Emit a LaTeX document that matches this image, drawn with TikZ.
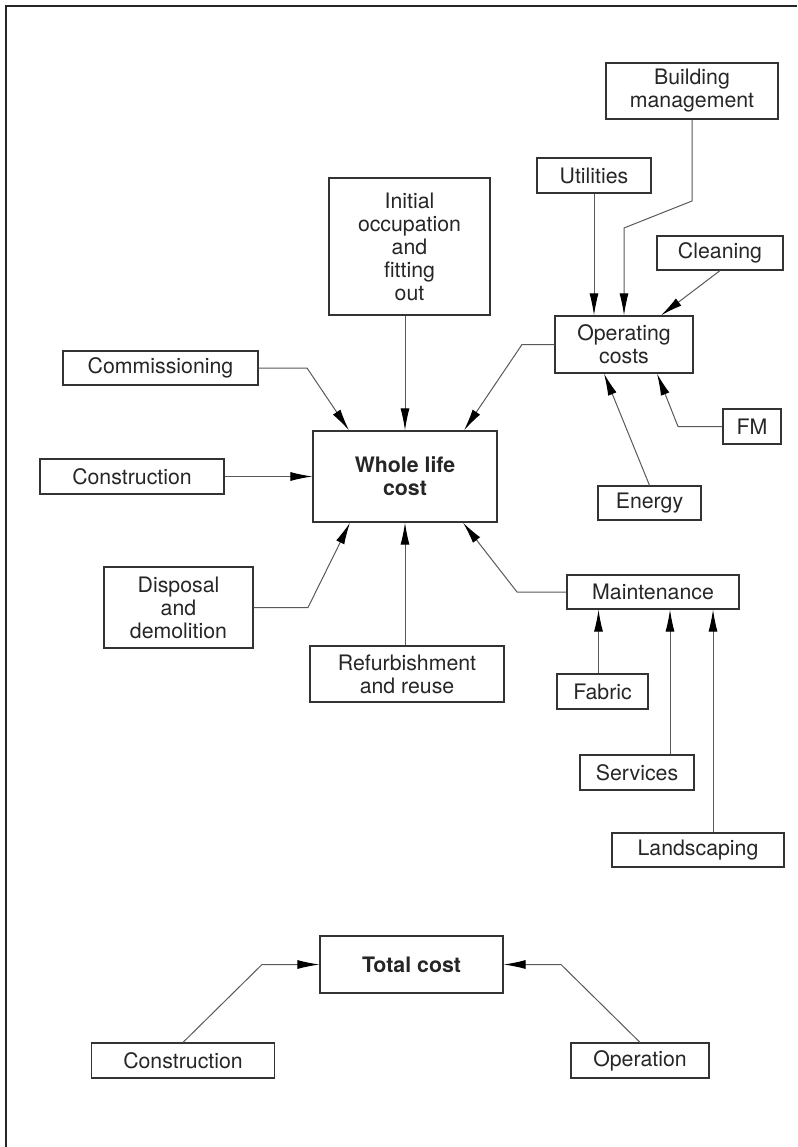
\documentclass[tikz,border=0pt]{standalone}
\usepackage{fontspec}
\setmainfont{TeX Gyre Heros}
\usetikzlibrary{arrows.meta}
\usetikzlibrary{positioning}

\begin{document}
\begin{tikzpicture}
    [x=1pt,y=-1pt,
    box/.style={rectangle,draw=black!80,line width=1.2pt,
      inner sep=0pt,align=center,text=black!85,
      font=\fontsize{21.3}{23}\selectfont},
    boxsize/.style 2 args={minimum width=#1,minimum height=#2},
    link/.style={draw=black!65,line width=1pt,
      -{Latex[length=22pt,width=9pt,black]}}]

    \useasboundingbox (0,0) rectangle (797,1147);
    \draw[black!85,line width=1.5pt] (6,1147) -- (6,6) -- (797,6);

    \node[box,boxsize={184pt}{91pt}]  (whole)     at (405,476.5) {\textbf{Whole life}\\\textbf{cost}};

    \node[box,boxsize={161pt}{137pt}] (initial)   at (409.5,246.5) {Initial\\occupation\\and\\fitting\\out};
    \node[box,boxsize={195pt}{34pt}]  (commiss)   at (160.5,368)   {Commissioning};
    \node[box,boxsize={184pt}{35pt}]  (construct) at (132,476.5)   {Construction};
    \node[box,boxsize={149pt}{81pt}]  (disposal)  at (178.5,607.5) {Disposal\\and\\demolition};
    \node[box,boxsize={194pt}{56pt}]  (refurb)    at (407,674)     {Refurbishment\\and reuse};

    \node[box,boxsize={138pt}{57pt}]  (operating) at (624,344.5)   {Operating\\costs};
    \node[box,boxsize={172pt}{56pt}]  (buildman)  at (692,91)      {Building\\management};
    \node[box,boxsize={114pt}{35pt}]  (utilities) at (594,175.5)   {Utilities};
    \node[box,boxsize={126pt}{34pt}]  (cleaning)  at (720,253)     {Cleaning};
    \node[box,boxsize={58pt}{35pt}]   (fm)        at (752,426.5)   {FM};
    \node[box,boxsize={103pt}{34pt}]  (energy)    at (649.5,503)   {Energy};

    \node[box,boxsize={172pt}{34pt}]  (maint)     at (653,592)     {Maintenance};
    \node[box,boxsize={91pt}{35pt}]   (fabric)    at (602.5,691.5) {Fabric};
    \node[box,boxsize={114pt}{35pt}]  (services)  at (637,772.5)   {Services};
    \node[box,boxsize={172pt}{34pt}]  (landscape) at (698,850)     {Landscaping};

    \node[box,boxsize={183pt}{57pt}]  (total)     at (411.5,964.5) {\textbf{Total cost}};
    \node[box,boxsize={183pt}{35pt}]  (buildcost) at (183,1060.5)  {Construction};
    \node[box,boxsize={138pt}{35pt}]  (operation) at (640,1060.5)  {Operation};

    % bends
    \coordinate (buildman bend)  at (692,201);
    \coordinate (buildman bend2) at (624,228);
    \coordinate (operating bend) at (522,344.5);
    \coordinate (commiss bend)   at (307,368);
    \coordinate (disposal bend)  at (308,607.5);
    \coordinate (maint bend)     at (517,592);
    \coordinate (fm bend)        at (678,426.5);
    \coordinate (buildcost bend) at (262,964.5);
    \coordinate (operation bend) at (561,964.5);

    % into operating costs
    \draw[link] (utilities.south) -- (utilities.south |- operating.north);
    \draw[link] (buildman.south) -- (buildman bend) -- (buildman bend2)
      -- (buildman bend2 |- operating.north);
    \draw[link] (cleaning.south) -- ([xshift=37pt]operating.north);
    \draw[link] (energy.north) -- ([xshift=-20pt]operating.south);
    \draw[link] (fm.west) -- (fm bend) -- ([xshift=33pt]operating.south);

    % into maintenance
    \draw[link] ([xshift=-4pt]fabric.north) -- ([xshift=-4pt]fabric.north |- maint.south);
    \draw[link] ([xshift=33pt]services.north) -- ([xshift=33pt]services.north |- maint.south);
    \draw[link] ([xshift=15pt]landscape.north) -- ([xshift=15pt]landscape.north |- maint.south);

    % into whole life cost
    \draw[link] (initial.south -| whole.north) -- (whole.north);
    \draw[link] (commiss.east) -- (commiss bend) -- ([xshift=-56pt]whole.north);
    \draw[link] (construct.east) -- (whole.west);
    \draw[link] (disposal.east) -- (disposal bend) -- ([xshift=-55pt]whole.south);
    \draw[link] (refurb.north -| whole.south) -- (whole.south);
    \draw[link] (maint.west) -- (maint bend) -- ([xshift=58pt]whole.south);
    \draw[link] (operating.west) -- (operating bend) -- ([xshift=59pt]whole.north);

    % total cost
    \draw[link] (buildcost.north) -- (buildcost bend) -- (total.west);
    \draw[link] (operation.north) -- (operation bend) -- (total.east);

  \end{tikzpicture}
\end{document}
